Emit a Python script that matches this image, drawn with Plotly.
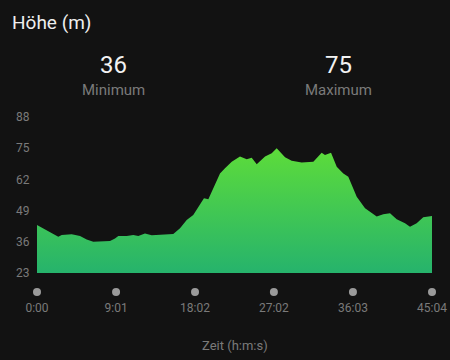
import plotly.graph_objects as go

# time in minutes since start
time_min = [0.0, 0.72, 1.48, 2.43, 2.82, 3.96, 4.91, 5.67, 6.42, 7.19, 8.33, 8.90,
            9.28, 10.24, 10.99, 11.56, 12.32, 13.09, 14.41, 15.55, 16.32, 17.08,
            17.83, 18.60, 19.05, 19.55, 20.12, 20.88, 21.45, 22.22, 23.16, 23.93,
            24.50, 25.07, 26.02, 26.78, 27.35, 27.73, 28.30, 29.06, 30.20, 31.53,
            32.48, 32.86, 33.55, 34.20, 34.95, 35.52, 36.48, 37.43, 38.76, 39.51,
            40.28, 41.04, 41.99, 42.56, 43.32, 44.07, 45.07]
elevation = [43.0, 41.6, 40.2, 38.1, 38.8, 39.1, 38.4, 37.0, 36.0, 36.1, 36.3, 37.4,
             38.4, 38.4, 38.8, 38.4, 39.5, 38.7, 39.1, 39.25, 41.6, 45.1,
             47.2, 51.3, 54.1, 53.7, 58.3, 64.5, 66.6, 69.4, 71.5, 70.4,
             71.0, 68.3, 71.5, 72.9, 75.0, 73.5, 71.2, 69.8, 69.0, 69.4,
             73.1, 72.2, 73.1, 67.3, 64.5, 63.1, 54.8, 50.0, 46.5, 47.5,
             47.9, 45.4, 43.7, 42.3, 43.7, 46.2, 46.75]

x_tick_vals = [0.0, 9.02, 18.03, 27.03, 36.05, 45.07]
x_tick_text = ["0:00", "9:01", "18:02", "27:02", "36:03", "45:04"]
y_tick_vals = [23, 36, 49, 62, 75, 88]

BG = "#121212"
FONT = "Roboto"

W, H = 450, 360
L, R, T, B = 37, 18, 117, 87
pw, ph = W - L - R, H - T - B
X0, X1 = 0, 45.07
Y0, Y1 = 23, 88


def px(x):
    return (x - L) / pw


def py(y):
    return (H - B - y) / ph


fig = go.Figure()
fig.add_trace(go.Scatter(
    x=time_min, y=elevation, mode="lines", line=dict(width=0, color="#4ccf4a"),
    fill="tozeroy",
    fillgradient=dict(type="vertical", start=23, stop=75,
                      colorscale=[[0, "#26b36c"], [1, "#5ddc3a"]]),
    hoverinfo="skip", showlegend=False,
))

min_v = round(min(elevation))
max_v = round(max(elevation))

annotations = [
    dict(text=str(min_v), x=px(113), y=py(65), font=dict(size=24, color="#f2f2f2")),
    dict(text="Minimum", x=px(113), y=py(90), font=dict(size=15, color="#7a7a7a")),
    dict(text=str(max_v), x=px(338), y=py(65), font=dict(size=24, color="#f2f2f2")),
    dict(text="Maximum", x=px(338), y=py(90), font=dict(size=15, color="#7a7a7a")),
    dict(text="Zeit (h:m:s)", x=px(235), y=py(345), font=dict(size=13, color="#7a7a7a")),
]
for a in annotations:
    a.update(xref="paper", yref="paper", showarrow=False, xanchor="center", yanchor="middle")

# grey dots above each time tick label
shapes = []
for tv in x_tick_vals:
    shapes.append(dict(type="circle", xref="paper", yref="paper",
                       xsizemode="pixel", ysizemode="pixel",
                       xanchor=(tv - X0) / (X1 - X0), yanchor=py(292),
                       x0=-4, x1=4, y0=-4, y1=4,
                       fillcolor="#9a9a9a", line=dict(width=0)))

fig.update_layout(
    width=W, height=H,
    paper_bgcolor=BG, plot_bgcolor=BG,
    margin=dict(l=L, r=R, t=T, b=B, autoexpand=False),
    font=dict(family=FONT, color="#7a7a7a"),
    title=dict(text="Höhe (m)", x=12 / W, y=1 - 22 / H, xanchor="left", yanchor="middle",
               xref="container", yref="container",
               font=dict(size=19, color="#eeeeee", family=FONT)),
    annotations=annotations,
    shapes=shapes,
    xaxis=dict(range=[X0, X1], tickvals=x_tick_vals, ticktext=x_tick_text,
               showgrid=False, zeroline=False, showline=False,
               ticks="outside", ticklen=24, tickcolor=BG, automargin=False,
               tickfont=dict(size=12, color="#7a7a7a", family=FONT)),
    yaxis=dict(range=[Y0, Y1], tickvals=y_tick_vals, showgrid=False, zeroline=False,
               showline=False, ticks="outside", ticklen=4, tickcolor=BG, automargin=False,
               tickfont=dict(size=12, color="#7a7a7a", family=FONT)),
)

fig.write_html(
    "out.html",
    config={"displayModeBar": False},
    post_script="document.body.style.margin='0';document.body.style.background='#121212';",
)
